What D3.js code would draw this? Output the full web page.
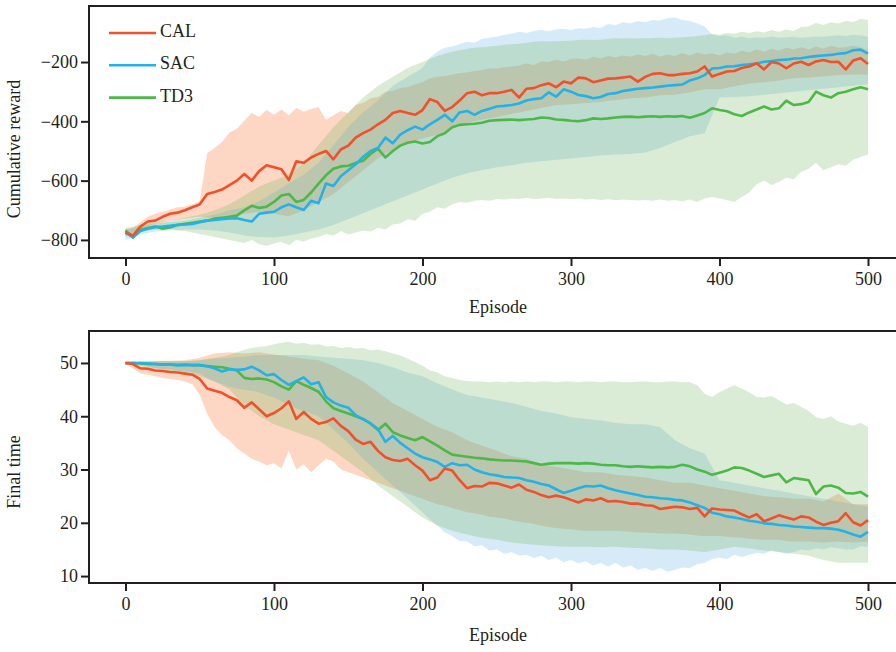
<!DOCTYPE html>
<html><head><meta charset="utf-8">
<script src="https://cdn.jsdelivr.net/npm/d3@7"></script>
<style>html,body{margin:0;padding:0;background:#fff}svg{display:block}</style>
</head><body>
<script>
// ---------- DATA ----------
const seriesNames = ["CAL", "SAC", "TD3"];
const episodeTicks = [0, 100, 200, 300, 400, 500];
const rewardTicks = [-800, -600, -400, -200];
const timeTicks = [10, 20, 30, 40, 50];
const LAST_EPISODE = 500; // samples of each array are evenly spread over 0..500

// Top panel: cumulative reward (mean, every 5 episodes)
const calReward = [-775,-785,-755,-738,-735,-722,-712,-708,-700,-690,
  -680,-645,-638,-630,-615,-600,-578,-600,-568,-548,
  -555,-562,-598,-535,-540,-522,-510,-500,-528,-495,
  -482,-455,-440,-428,-410,-395,-372,-365,-372,-378,
  -362,-325,-335,-365,-352,-330,-305,-300,-312,-305,
  -305,-300,-294,-320,-290,-288,-278,-272,-285,-266,
  -272,-252,-255,-268,-262,-256,-255,-252,-249,-266,
  -250,-240,-238,-244,-244,-240,-238,-232,-215,-249,
  -240,-232,-230,-220,-215,-204,-225,-200,-205,-221,
  -205,-199,-210,-198,-193,-200,-199,-225,-195,-187,
  -207];
const sacReward = [-775,-792,-770,-762,-757,-755,-752,-749,-748,-746,
  -740,-735,-733,-730,-728,-727,-733,-738,-712,-708,
  -705,-690,-680,-690,-699,-668,-676,-610,-618,-585,
  -565,-545,-520,-500,-490,-455,-474,-445,-430,-418,
  -428,-410,-395,-378,-400,-370,-365,-378,-365,-358,
  -350,-348,-345,-340,-330,-325,-322,-302,-317,-292,
  -300,-311,-315,-322,-318,-308,-305,-298,-294,-290,
  -288,-286,-283,-280,-278,-276,-262,-255,-244,-222,
  -220,-215,-214,-210,-208,-205,-199,-197,-193,-192,
  -188,-187,-183,-180,-178,-176,-172,-170,-160,-158,
  -172];
const td3Reward = [-768,-792,-766,-760,-755,-762,-758,-750,-746,-742,
  -738,-735,-728,-725,-722,-718,-700,-685,-692,-688,
  -672,-650,-645,-672,-665,-640,-610,-582,-560,-552,
  -550,-540,-533,-510,-492,-522,-500,-482,-472,-468,
  -475,-470,-450,-440,-420,-412,-410,-408,-405,-398,
  -396,-395,-394,-396,-394,-392,-387,-389,-394,-395,
  -398,-400,-396,-390,-392,-390,-387,-385,-384,-386,
  -384,-383,-385,-383,-384,-382,-388,-380,-372,-356,
  -362,-366,-376,-382,-370,-360,-350,-360,-356,-330,
  -345,-342,-335,-300,-312,-320,-305,-300,-292,-285,
  -292];

// Top panel bands
const calRewardHi = [-765,-760,-740,-722,-712,-705,-698,-690,-688,-680,
  -670,-508,-490,-470,-438,-425,-398,-372,-385,-362,
  -378,-360,-380,-355,-368,-358,-352,-395,-380,-365,
  -372,-345,-338,-322,-318,-300,-298,-288,-285,-275,
  -268,-255,-250,-248,-242,-238,-235,-230,-228,-222,
  -222,-218,-215,-212,-205,-210,-198,-200,-192,-198,
  -190,-188,-192,-182,-188,-180,-185,-178,-182,-175,
  -180,-172,-182,-175,-180,-170,-178,-168,-175,-170,
  -178,-168,-172,-162,-168,-158,-165,-155,-162,-152,
  -158,-150,-158,-148,-155,-145,-152,-150,-145,-150,
  -160];
const calRewardLo = [-785,-765,-745,-735,-728,-722,-725,-722,-712,-705,
  -712,-720,-700,-672,-645,-605,-565,-525,-495,-475,
  -458,-445,-425,-405,-395,-385,-375,-365,-355,-345,
  -342,-338,-335,-328,-322,-320,-312,-310,-302,-292,
  -292,-282,-272,-268,-262,-255,-252,-248,-244,-242,-242];
const sacRewardHi = [-765,-760,-755,-750,-745,-742,-740,-738,-735,-730,
  -725,-720,-715,-708,-700,-695,-690,-680,-670,-655,
  -640,-625,-610,-595,-580,-560,-540,-510,-480,-450,
  -420,-395,-370,-350,-330,-305,-280,-265,-250,-235,
  -220,-185,-165,-152,-148,-140,-132,-135,-122,-118,
  -115,-108,-105,-98,-102,-95,-92,-96,-90,-88,
  -92,-86,-88,-82,-85,-72,-76,-66,-70,-62,
  -66,-58,-60,-52,-50,-58,-62,-70,-80,-108,
  -112,-110,-118,-115,-120,-116,-118,-114,-118,-116,
  -115,-118,-116,-114,-115,-112,-110,-112,-108,-110,
  -115];
const sacRewardLo = [-800,-782,-772,-768,-765,-765,-768,-775,-785,-790,
  -792,-785,-775,-765,-750,-730,-710,-690,-670,-650,
  -630,-610,-590,-575,-565,-555,-548,-540,-535,-530,
  -525,-520,-515,-512,-510,-505,-490,-470,-450,-440,
  -320,-318,-315,-310,-305,-300,-295,-290,-285,-280,-275];
const td3RewardHi = [-760,-755,-750,-745,-740,-738,-735,-730,-725,-720,
  -715,-708,-700,-690,-680,-665,-650,-635,-620,-610,
  -600,-590,-580,-560,-540,-510,-480,-450,-420,-395,
  -370,-345,-320,-300,-280,-265,-250,-235,-220,-210,
  -200,-190,-180,-172,-165,-160,-155,-152,-150,-148,
  -145,-142,-140,-138,-135,-132,-130,-131,-130,-129,
  -128,-126,-125,-126,-125,-122,-120,-121,-120,-121,
  -120,-119,-118,-119,-118,-116,-115,-112,-110,-105,
  -108,-102,-105,-98,-102,-96,-100,-92,-98,-90,
  -95,-82,-80,-68,-75,-66,-70,-62,-65,-55,
  -58];
const td3RewardLo = [-790,-780,-770,-768,-765,-762,-760,-768,-770,-775,
  -780,-785,-790,-795,-800,-805,-810,-800,-815,-820,
  -812,-806,-818,-800,-805,-795,-790,-780,-785,-770,
  -782,-775,-768,-772,-760,-765,-748,-745,-730,-735,
  -712,-705,-690,-695,-680,-672,-675,-668,-665,-668,
  -662,-664,-660,-662,-658,-662,-660,-658,-662,-660,
  -662,-660,-664,-662,-665,-663,-666,-664,-665,-667,
  -665,-668,-664,-668,-666,-670,-664,-672,-660,-655,
  -660,-665,-672,-655,-640,-612,-600,-615,-605,-590,
  -595,-570,-560,-540,-565,-555,-545,-550,-530,-520,
  -512];

// Bottom panel: final time (mean, every 5 episodes)
const calTime = [50,49.8,49.0,48.9,48.6,48.5,48.3,48.2,48.0,47.8,
  47.0,45.2,44.8,44.4,43.6,43.0,41.6,42.6,41.3,40.0,
  40.6,41.5,42.8,39.5,40.8,39.5,38.6,38.9,39.6,38.2,
  37.2,35.6,34.8,35.2,33.5,32.3,31.8,31.6,32.0,30.8,
  29.8,28.0,28.5,30.2,29.8,28.0,26.5,26.9,26.8,27.5,
  27.4,27.0,26.6,27.2,26.2,25.8,25.2,24.8,25.1,24.8,
  24.3,23.8,24.4,24.2,24.6,24.0,24.1,23.9,23.6,23.6,
  23.3,23.2,22.6,22.8,23.0,22.9,22.6,22.8,21.2,22.7,
  22.5,22.4,22.3,21.6,21.0,21.6,20.3,20.8,21.4,21.0,
  20.6,21.2,21.0,20.2,19.6,20.0,20.3,21.8,20.1,19.5,
  20.5];
const sacTime = [50,50,50,49.9,49.8,49.7,49.7,49.6,49.6,49.6,
  49.6,49.4,49.0,48.4,48.8,48.7,48.8,49.3,48.6,47.7,
  47.9,46.8,45.9,46.6,47.3,46.0,46.4,43.6,42.6,42.0,
  41.6,40.2,39.4,38.7,37.6,35.2,36.3,35.0,34.0,33.0,
  32.3,31.9,31.4,30.5,31.2,30.8,30.9,30.0,29.5,29.1,
  28.9,28.6,28.5,28.4,28.0,27.7,27.3,27.0,26.3,25.6,
  26.0,26.5,26.9,26.8,27.0,26.5,26.1,25.8,25.5,25.2,
  24.9,24.8,24.6,24.5,24.3,24.2,23.8,23.3,22.8,21.9,
  21.6,21.2,21.0,20.7,20.4,20.2,19.9,19.8,19.6,19.5,
  19.3,19.2,19.1,19.0,19.0,18.9,18.7,18.3,17.8,17.4,
  18.3];
const td3Time = [50,50,49.9,49.8,49.8,49.7,49.7,49.6,49.7,49.6,
  49.6,49.4,49.3,49.2,48.9,48.6,47.2,47.0,47.1,46.9,
  46.4,45.6,45.0,46.6,45.9,45.3,44.6,42.8,41.5,41.0,
  40.5,40.0,39.5,38.6,37.4,38.6,37.0,36.4,35.9,35.5,
  36.1,35.3,34.5,33.6,32.8,32.6,32.4,32.2,32.1,31.9,
  31.8,31.7,31.7,31.6,31.5,31.2,30.9,31.1,31.2,31.2,
  31.2,31.1,31.2,31.1,30.9,30.8,30.8,30.6,30.5,30.6,
  30.5,30.4,30.5,30.4,30.5,30.9,30.6,30.0,29.6,29.0,
  29.4,29.8,30.4,30.3,29.8,29.2,28.6,28.9,29.2,27.6,
  28.4,28.2,28.0,25.4,26.8,27.0,26.6,25.6,25.5,25.8,
  24.9];

// Bottom panel bands
const calTimeHi = [50.2,50.3,50.4,50.4,50.5,51.0,51.8,52.0,51.8,52.0,
  51.6,51.2,50.8,50.5,49.5,48.0,46.5,44.5,42.5,41.0,
  39.5,38.0,37.0,35.5,34.5,33.5,32.5,32.0,31.0,30.5,
  30.0,29.5,29.5,29.0,28.8,28.5,28.0,27.5,27.5,27.0,
  26.5,26.0,25.5,25.0,24.8,24.5,24.5,24.0,25.5,23.5,23.5];
const calTimeLo = [49.8,49.0,48.0,47.8,47.5,47.2,47.0,46.8,46.5,46.0,
  44.0,40.5,38.0,36.5,35.5,34.0,33.0,32.0,31.5,30.8,
  31.2,30.2,33.5,30.0,31.0,29.5,30.8,32.0,31.5,30.0,
  29.5,29.0,28.5,28.0,27.5,27.0,26.5,26.0,25.5,25.0,
  24.5,24.0,23.5,23.2,22.8,22.4,22.0,21.8,21.5,21.2,
  21.0,20.8,20.5,20.2,20.0,19.8,19.5,19.2,19.0,18.9,
  18.8,18.6,18.5,18.5,18.5,18.5,18.5,18.4,18.3,18.2,
  18.2,18.1,18.0,18.0,18.0,17.9,17.8,17.6,17.5,17.5,
  17.5,17.4,17.3,17.2,17.0,16.9,16.8,16.8,16.8,16.6,
  16.5,16.5,16.5,16.4,16.3,16.4,16.5,16.4,16.3,16.4,
  16.5];
const sacTimeHi = [50.1,50.2,50.3,50.3,50.3,50.5,50.8,51.0,51.2,51.5,
  51.5,51.5,51.5,51.2,51.0,50.8,50.5,50.0,49.2,48.2,
  47.5,46.2,45.0,44.0,43.5,43.0,42.5,41.8,41.0,40.5,
  39.8,39.5,39.2,38.8,38.5,38.5,38.0,35.5,34.0,33.0,
  28.0,27.5,27.0,26.5,26.0,25.5,25.0,24.5,24.0,23.5,23.0];
const sacTimeLo = [49.9,49.9,49.8,49.4,49.0,48.9,48.8,48.6,48.5,48.2,
  48.0,47.2,46.5,46.0,45.5,45.2,45.0,44.8,44.5,44.0,
  43.5,42.8,42.0,41.5,41.0,40.5,40.0,38.8,37.5,36.2,
  35.0,33.5,32.0,30.8,29.5,28.2,27.0,25.8,24.5,23.2,
  22.0,20.6,19.5,18.2,17.5,16.6,16.5,15.6,15.8,14.8,
  15.0,14.2,14.5,13.8,14.0,13.4,13.8,13.0,13.5,12.6,
  13.0,12.4,12.8,12.0,12.5,11.8,12.5,11.6,12.0,11.2,
  11.5,11.0,11.5,10.8,11.2,11.6,11.5,12.2,12.5,13.2,
  13.5,13.2,14.0,13.6,14.0,14.4,14.2,14.8,14.5,14.2,
  14.5,15.0,14.8,15.2,15.0,15.4,15.2,15.0,15.0,15.6,
  15.5];
const td3TimeHi = [50.1,50.1,50.2,50.2,50.2,50.3,50.3,50.3,50.3,50.4,
  50.5,50.8,51.0,51.2,51.5,52.0,52.5,52.8,53.0,53.2,
  53.5,53.8,54.0,53.6,53.8,53.4,53.5,53.1,53.2,52.8,
  53.0,52.7,52.8,52.4,52.5,52.2,51.8,51.4,50.8,50.2,
  49.5,48.6,48.2,47.5,47.2,46.8,46.6,46.5,46.5,46.4,
  46.5,46.4,46.5,46.4,46.5,46.4,46.5,46.5,46.4,46.5,
  46.5,46.4,46.5,46.5,46.4,46.5,46.5,46.4,46.4,46.5,
  46.5,46.4,46.4,46.5,46.5,46.4,46.4,45.8,44.2,43.6,
  44.5,45.2,45.8,45.2,44.5,43.6,43.5,43.8,43.0,42.2,
  42.5,41.8,41.0,39.8,39.5,40.0,39.0,38.6,38.2,38.8,
  38.0];
const td3TimeLo = [49.9,49.5,49.0,48.5,48.0,47.5,46.5,45.0,42.0,40.0,
  38.5,37.5,36.5,35.5,33.5,31.5,29.5,27.0,25.0,23.0,
  21.0,19.5,18.5,17.8,17.2,16.8,16.3,16.0,15.8,15.6,
  15.5,15.5,15.4,15.5,15.3,15.2,15.0,15.0,14.8,14.5,
  15.0,15.5,15.2,14.8,14.5,14.2,13.8,13.0,12.5,12.5,12.5];

// ---------- STYLE ----------
const lineColors = ["#f0512b", "#22b2e8", "#4db848"];
const fillColors = ["#f75f10", "#5babdf", "#6bb357"];
const FILL_OPACITY = 0.25;
const ink = "#231f20";
const FONT = "'Liberation Serif','Times New Roman',serif";
const W = 896, H = 652;

const svg = d3.select("body").append("svg").attr("width", W).attr("height", H)
  .style("background", "#fff");

function withEpisodes(arr) {
  const step = LAST_EPISODE / (arr.length - 1);
  return arr.map((v, j) => ({ep: j * step, v}));
}

function drawPanel(cfg) {
  const x = d3.scaleLinear().domain([0, 500]).range([125.5, 868]);
  const y = d3.scaleLinear().domain(cfg.yDomain).range([cfg.bottom, cfg.top]);
  const g = svg.append("g");

  const area = d3.area().x(d => x(d.ep)).y0(d => y(d.lo)).y1(d => y(d.hi));
  const line = d3.line().x(d => x(d.ep)).y(d => y(d.v));

  // bands: upper edge forward, lower edge backward (arrays may differ in density)
  cfg.bands.forEach((b, i) => {
    const hi = withEpisodes(b.hi), lo = withEpisodes(b.lo);
    const pts = hi.map(d => [x(d.ep), y(d.v)])
      .concat(lo.slice().reverse().map(d => [x(d.ep), y(d.v)]));
    g.append("path").attr("d", "M" + pts.map(p => p.join(",")).join("L") + "Z")
      .attr("fill", fillColors[i]).attr("fill-opacity", FILL_OPACITY).attr("stroke", "none");
  });
  // lines (TD3, SAC, CAL so CAL is on top)
  [2, 1, 0].forEach(i => {
    g.append("path").datum(withEpisodes(cfg.means[i])).attr("d", line)
      .attr("fill", "none").attr("stroke", lineColors[i]).attr("stroke-width", 2.6)
      .attr("stroke-linejoin", "round");
  });

  // axes
  const xa = g.append("g").attr("transform", `translate(0,${cfg.bottom})`)
    .call(d3.axisBottom(x).tickValues(episodeTicks).tickSize(8).tickPadding(6).tickFormat(d3.format("d")));
  const ya = g.append("g").attr("transform", `translate(89,0)`)
    .call(d3.axisLeft(y).tickValues(cfg.ticks).tickSize(8).tickPadding(3).tickFormat(d3.format("d")));
  [xa, ya].forEach(a => {
    a.select(".domain").remove();
    a.selectAll(".tick line").attr("stroke", ink).attr("stroke-width", 2);
    a.selectAll(".tick text").attr("fill", ink).style("font-family", FONT).style("font-size", "18px");
  });

  // frame (left, top, bottom spines)
  g.append("path")
    .attr("d", `M900,${cfg.top}H89V${cfg.bottom}H900`)
    .attr("fill", "none").attr("stroke", ink).attr("stroke-width", 2);

  g.append("text").attr("x", 498).attr("y", cfg.xLabelY)
    .attr("text-anchor", "middle").attr("dominant-baseline", "middle")
    .style("font-family", FONT).style("font-size", "18px").attr("fill", ink).text("Episode");
  g.append("text").attr("transform", `translate(16,${cfg.yLabelY}) rotate(-90)`)
    .attr("text-anchor", "middle").attr("dominant-baseline", "middle")
    .style("font-family", FONT).style("font-size", "18px").attr("fill", ink).text(cfg.yLabel);

  if (cfg.legend) {
    seriesNames.forEach((n, i) => {
      const ly = 33 + i * 32.3;
      g.append("line").attr("x1", 109).attr("x2", 156).attr("y1", ly).attr("y2", ly)
        .attr("stroke", lineColors[i]).attr("stroke-width", 2.6);
      g.append("text").attr("x", 160).attr("y", ly).attr("dominant-baseline", "middle")
        .style("font-family", FONT).style("font-size", "18px").attr("fill", ink).text(n);
    });
  }
}

drawPanel({
  top: 6, bottom: 258, yDomain: [-861, -11], ticks: rewardTicks,
  yLabel: "Cumulative reward", yLabelY: 149, xLabelY: 309,
  means: [calReward, sacReward, td3Reward],
  bands: [{hi: calRewardHi, lo: calRewardLo}, {hi: sacRewardHi, lo: sacRewardLo}, {hi: td3RewardHi, lo: td3RewardLo}],
  legend: true
});
drawPanel({
  top: 331, bottom: 583, yDomain: [8.7, 56], ticks: timeTicks,
  yLabel: "Final time", yLabelY: 472, xLabelY: 637,
  means: [calTime, sacTime, td3Time],
  bands: [{hi: calTimeHi, lo: calTimeLo}, {hi: sacTimeHi, lo: sacTimeLo}, {hi: td3TimeHi, lo: td3TimeLo}],
  legend: false
});
</script>
</body></html>
